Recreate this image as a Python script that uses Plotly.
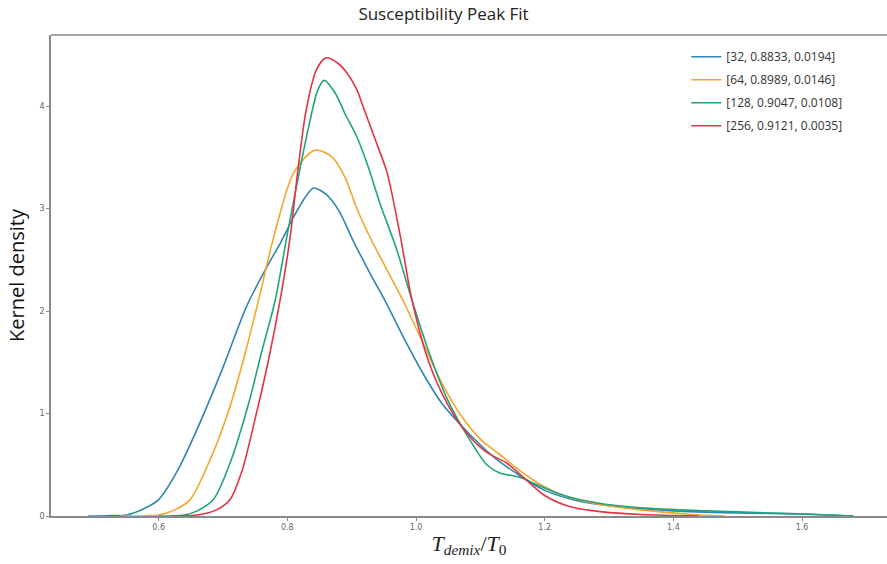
import plotly.graph_objects as go

# Kernel density estimates of T_demix / T_0 for each lattice size
labels = ["[32, 0.8833, 0.0194]", "[64, 0.8989, 0.0146]",
          "[128, 0.9047, 0.0108]", "[256, 0.9121, 0.0035]"]
colors = ["#2f86b0", "#f4a62a", "#22a37c", "#e23445"]

x32 = [0.49, 0.52, 0.55, 0.58, 0.60, 0.63, 0.66, 0.70, 0.737, 0.77, 0.789, 0.81,
       0.83, 0.841, 0.86, 0.88, 0.902, 0.93, 0.952, 0.98, 1.01, 1.04, 1.08,
       1.12, 1.16, 1.20, 1.25, 1.30, 1.40, 1.50, 1.60, 1.68]
y32 = [0.0, 0.003, 0.01, 0.08, 0.16, 0.45, 0.85, 1.45, 2.05, 2.45, 2.66, 2.92,
       3.13, 3.2, 3.14, 2.98, 2.69, 2.35, 2.1, 1.75, 1.4, 1.1, 0.82,
       0.58, 0.4, 0.25, 0.15, 0.1, 0.05, 0.03, 0.02, 0.0]

x64 = [0.54, 0.58, 0.60, 0.625, 0.649, 0.68, 0.71, 0.735, 0.755, 0.78, 0.81,
       0.843, 0.87, 0.89, 0.908, 0.93, 0.955, 0.98, 1.01, 1.04, 1.07, 1.10,
       1.13, 1.16, 1.19, 1.23, 1.28, 1.35, 1.42, 1.48]
y64 = [0.0, 0.003, 0.01, 0.06, 0.16, 0.55, 1.05, 1.6, 2.1, 2.75, 3.35,
       3.57, 3.5, 3.3, 3.0, 2.7, 2.4, 2.1, 1.7, 1.3, 0.98, 0.75,
       0.6, 0.45, 0.32, 0.2, 0.12, 0.06, 0.02, 0.0]

x128 = [0.60, 0.64, 0.66, 0.685, 0.71, 0.74, 0.76, 0.781, 0.80, 0.82, 0.835,
        0.847, 0.857, 0.875, 0.89, 0.908, 0.925, 0.944, 0.97, 0.994, 1.02,
        1.05, 1.08, 1.11, 1.13, 1.16, 1.19, 1.23, 1.28, 1.35, 1.45, 1.55,
        1.62, 1.68]
y128 = [0.0, 0.01, 0.05, 0.16, 0.5, 1.1, 1.6, 2.1, 2.75, 3.4, 3.85,
        4.15, 4.25, 4.12, 3.92, 3.7, 3.42, 3.05, 2.6, 2.1, 1.6,
        1.12, 0.78, 0.5, 0.42, 0.38, 0.3, 0.2, 0.13, 0.08, 0.05, 0.03,
        0.015, 0.0]

x256 = [0.62, 0.66, 0.69, 0.711, 0.73, 0.75, 0.77, 0.79, 0.805, 0.815, 0.829,
        0.845, 0.86, 0.878, 0.893, 0.908, 0.918, 0.935, 0.955, 0.975, 0.994,
        1.02, 1.05, 1.08, 1.11, 1.14, 1.17, 1.20, 1.24, 1.29, 1.35, 1.44]
y256 = [0.0, 0.01, 0.06, 0.16, 0.45, 0.95, 1.5, 2.15, 2.75, 3.3, 3.95,
        4.35, 4.47, 4.42, 4.32, 4.16, 3.99, 3.7, 3.35, 2.75, 2.1,
        1.5, 1.08, 0.8, 0.62, 0.52, 0.36, 0.2, 0.09, 0.04, 0.015, 0.0]

series = [(x32, y32), (x64, y64), (x128, y128), (x256, y256)]

fig = go.Figure()
for i, ((xs, ys), name, col) in enumerate(zip(series, labels, colors)):
    fig.add_trace(go.Scatter(
        x=xs, y=ys, mode="lines", name=name, legendgroup=f"g{i}",
        line=dict(color=col, width=1.6, shape="spline", smoothing=0.8),
    ))

tick_font = dict(family="DejaVu Sans", size=8, color="#666666")

# top spine of the frame
fig.add_shape(type="line", xref="paper", yref="paper", x0=0, x1=1, y0=1, y1=1,
              line=dict(color="#8a8a8a", width=1.5))

fig.update_layout(
    width=887, height=564,
    margin=dict(l=51, r=0, t=35, b=48),
    paper_bgcolor="white", plot_bgcolor="white",
    title=dict(text="Susceptibility Peak Fit", x=0.5, xanchor="center",
               y=0.975, yanchor="middle",
               font=dict(family="Open Sans", size=17, color="#222222")),
    showlegend=True,
    legend=dict(x=0.76, y=0.985, xanchor="left", yanchor="top",
                bgcolor="rgba(255,255,255,0)", borderwidth=0,
                font=dict(family="Open Sans", size=12, color="#333333"),
                itemwidth=30, tracegroupgap=4),
    xaxis=dict(range=[0.4327, 1.732], tickvals=[0.6, 0.8, 1.0, 1.2, 1.4, 1.6],
               ticktext=["0.6", "0.8", "1.0", "1.2", "1.4", "1.6"],
               showgrid=False, zeroline=False, showline=True,
               linecolor="#8a8a8a", linewidth=1.5, ticks="outside",
               ticklen=3, tickcolor="#8a8a8a", tickfont=tick_font,
               title=dict(text="<i>T</i><sub><i>demix</i></sub>/<i>T</i><sub>0</sub>",
                          font=dict(family="Liberation Serif", size=22, color="#222222"),
                          standoff=4)),
    yaxis=dict(range=[0, 4.693], tickvals=[0, 1, 2, 3, 4],
               showgrid=False, zeroline=False, showline=True, mirror=False,
               linecolor="#8a8a8a", linewidth=1.5, ticks="outside",
               ticklen=3, tickcolor="#8a8a8a", tickfont=tick_font,
               title=dict(text="Kernel density",
                          font=dict(family="Open Sans", size=20, color="#111111"),
                          standoff=10)),
)

fig.write_html("out.html", config={"displayModeBar": False})
